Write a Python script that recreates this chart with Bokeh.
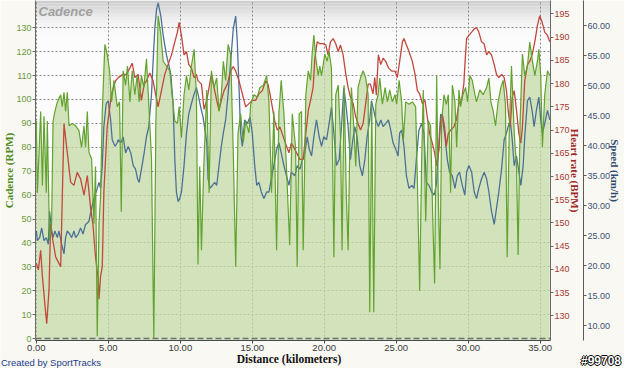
import math
from bokeh.plotting import figure
from bokeh.layouts import column
from bokeh.models import (Range1d, LinearAxis, FixedTicker, NumeralTickFormatter,
                          Span, Label, BoxAnnotation, ColumnDataSource, Div)
from bokeh.embed import file_html
from bokeh.resources import INLINE

# ---------------- data ----------------
cad_km = [0.00, 0.07, 0.30, 0.42, 0.53, 0.69, 0.76, 0.92, 1.06, 1.16, 1.29, 1.46, 1.69, 1.80, 1.92, 2.03,
          2.15, 2.27, 2.50, 2.73, 2.96, 3.14, 3.31, 3.42, 3.54, 3.65, 3.84, 4.00, 4.11, 4.23, 4.35, 4.46,
          4.58, 4.76, 4.92, 5.09, 5.22, 5.39, 5.62, 5.78, 5.90, 6.03, 6.20, 6.33, 6.50, 6.66, 6.84, 7.00,
          7.14, 7.30, 7.47, 7.65, 7.81, 8.00, 8.16, 8.30, 8.46, 8.65, 8.81, 9.04, 9.27, 9.43, 9.62, 9.80,
          9.92, 10.08, 10.26, 10.43, 10.59, 10.77, 10.96, 11.12, 11.23, 11.35, 11.47, 11.62, 11.84, 12.00,
          12.16, 12.34, 12.53, 12.69, 12.85, 12.99, 13.15, 13.32, 13.50, 13.68, 13.85, 14.01, 14.19, 14.38,
          14.54, 14.77, 14.89, 15.12, 15.35, 15.53, 15.77, 16.00, 16.16, 16.34, 16.50, 16.69, 16.85, 17.01,
          17.20, 17.38, 17.60, 17.78, 18.01, 18.12, 18.26, 18.42, 18.54, 18.72, 18.89, 19.05, 19.16, 19.28,
          19.42, 19.58, 19.69, 19.81, 20.04, 20.20, 20.34, 20.50, 20.67, 20.80, 20.97, 21.13, 21.24, 21.38,
          21.54, 21.66, 21.78, 21.89, 22.05, 22.19, 22.35, 22.52, 22.70, 22.88, 23.05, 23.16, 23.30, 23.44,
          23.58, 23.74, 23.86, 24.04, 24.23, 24.39, 24.55, 24.73, 24.92, 25.03, 25.20, 25.38, 25.50, 25.66,
          25.89, 26.12, 26.35, 26.47, 26.63, 26.77, 26.88, 27.05, 27.23, 27.39, 27.55, 27.67, 27.81, 27.92,
          28.04, 28.16, 28.32, 28.48, 28.62, 28.78, 28.90, 29.08, 29.20, 29.36, 29.47, 29.63, 29.82, 29.96,
          30.12, 30.28, 30.47, 30.58, 30.81, 31.04, 31.28, 31.44, 31.58, 31.74, 31.90, 32.08, 32.27, 32.43,
          32.59, 32.71, 32.85, 33.01, 33.20, 33.36, 33.47, 33.61, 33.77, 33.93, 34.12, 34.28, 34.44, 34.63,
          34.81, 34.91, 35.04, 35.16, 35.32, 35.51, 35.67]
cad_rpm = [91, 61, 95, 64, 93, 61, 91, 41, 48, 91, 95, 99, 102, 97, 103, 95,
           103, 89, 90, 89, 87, 80, 89, 80, 95, 78, 75, 48, 72, 1, 48, 59,
           95, 123, 119, 112, 99, 108, 97, 99, 53, 112, 106, 114, 99, 112, 102, 110,
           99, 110, 105, 117, 98, 75, 0, 89, 135, 127, 116, 114, 112, 102, 91, 90,
           97, 84, 102, 110, 104, 114, 121, 102, 31, 72, 37, 70, 104, 61,
           112, 105, 109, 95, 102, 116, 108, 123, 119, 78, 30, 86, 94, 82,
           91, 86, 98, 102, 101, 105, 106, 110, 99, 61, 95, 37, 94, 108,
           94, 71, 39, 94, 80, 30, 94, 95, 37, 102, 112, 108, 119, 127,
           117, 110, 114, 110, 119, 116, 120, 113, 34, 102, 106, 84, 37, 106,
           59, 37, 82, 105, 89, 72, 105, 109, 112, 109, 102, 11, 99, 11,
           98, 102, 109, 98, 105, 99, 104, 99, 102, 98, 108, 99, 83, 99,
           98, 99, 97, 67, 20, 75, 104, 49, 91, 89, 48, 23, 110, 61,
           29, 91, 102, 98, 102, 61, 106, 99, 80, 104, 97, 102, 105, 99,
           110, 108, 102, 99, 104, 102, 105, 109, 99, 95, 89, 99, 105, 108,
           98, 34, 86, 114, 86, 72, 35, 91, 119, 110, 114, 124, 117, 110,
           116, 121, 110, 80, 102, 112, 110]

hr_km = [0.00, 0.14, 0.30, 0.42, 0.60, 0.72, 0.88, 0.99, 1.11, 1.34, 1.57, 1.69, 1.92, 2.15, 2.38, 2.61,
         2.84, 3.07, 3.31, 3.54, 3.77, 3.93, 4.11, 4.30, 4.35, 4.46, 4.58, 4.69, 4.92, 5.22, 5.50, 5.69,
         6.03, 6.26, 6.50, 6.66, 6.84, 7.07, 7.30, 7.49, 7.65, 7.88, 8.11, 8.28, 8.46, 8.69, 8.92, 9.15,
         9.39, 9.62, 9.80, 9.92, 10.08, 10.26, 10.43, 10.59, 10.77, 10.96, 11.12, 11.23, 11.47, 11.65,
         11.84, 12.00, 12.16, 12.34, 12.53, 12.69, 12.85, 13.04, 13.27, 13.50, 13.68, 13.85, 14.08, 14.31,
         14.54, 14.77, 15.00, 15.23, 15.46, 15.70, 15.93, 16.09, 16.23, 16.39, 16.55, 16.74, 16.92, 17.15,
         17.38, 17.55, 17.71, 17.85, 18.08, 18.31, 18.54, 18.72, 18.89, 19.05, 19.23, 19.35, 19.51, 19.69,
         19.93, 20.11, 20.27, 20.43, 20.62, 20.80, 20.97, 21.13, 21.31, 21.50, 21.66, 21.82, 22.01, 22.19,
         22.35, 22.52, 22.70, 22.88, 23.05, 23.21, 23.39, 23.51, 23.62, 23.76, 23.93, 24.09, 24.27, 24.46,
         24.69, 24.92, 25.08, 25.24, 25.43, 25.54, 25.71, 25.89, 26.12, 26.31, 26.47, 26.63, 26.82, 27.00,
         27.16, 27.32, 27.51, 27.67, 27.81, 27.97, 28.09, 28.20, 28.36, 28.48, 28.62, 28.78, 29.01, 29.17,
         29.36, 29.54, 29.70, 29.80, 29.89, 30.05, 30.24, 30.42, 30.58, 30.74, 30.93, 31.11, 31.28, 31.44,
         31.62, 31.81, 31.97, 32.13, 32.32, 32.50, 32.66, 32.78, 32.92, 33.06, 33.20, 33.36, 33.52, 33.66,
         33.77, 33.93, 34.12, 34.28, 34.44, 34.63, 34.81, 34.97, 35.14, 35.32, 35.51, 35.67]
hr_bpm = [141.3, 139.9, 144.1, 138.5, 132.2, 128.3, 135.7, 149.7, 146.9, 142.7, 141.3, 140.6, 171.4, 165.1, 158.8, 158.1,
          160.9, 159.5, 156.0, 160.2, 153.2, 149.7, 142.7, 137.8, 133.6, 138.5, 140.6, 156.7, 170.7, 177.8, 180.6, 181.3,
          182.0, 182.0, 183.4, 184.4, 181.3, 182.0, 176.4, 179.9, 180.6, 182.3, 180.6, 177.8, 175.0, 178.5, 182.0, 184.1,
          186.2, 189.0, 191.1, 193.2, 190.4, 186.2, 186.9, 184.1, 183.4, 181.3, 182.0, 180.6, 179.9, 174.5,
          176.4, 179.2, 182.0, 179.2, 176.4, 174.2, 176.4, 178.5, 179.9, 182.7, 183.7, 182.7, 180.6, 177.8,
          175.0, 175.7, 176.4, 176.4, 177.8, 178.5, 180.6, 179.9, 177.8, 175.0, 172.1, 170.0, 170.7, 168.6,
          166.5, 165.1, 167.2, 166.5, 165.1, 163.7, 163.7, 169.3, 174.2, 176.4, 179.2, 185.5, 189.0, 188.6,
          188.6, 188.3, 186.2, 189.0, 189.7, 188.6, 186.9, 188.3, 186.2, 182.0, 179.2, 177.1, 175.7, 172.8,
          171.4, 170.0, 171.4, 175.7, 179.9, 179.9, 177.8, 181.3, 177.5, 186.2, 184.1, 185.5, 184.8, 183.4,
          182.7, 182.7, 181.3, 184.8, 189.0, 189.7, 188.3, 186.9, 184.8, 182.0, 178.5, 177.8, 175.7, 176.4,
          172.8, 169.3, 167.2, 165.1, 162.3, 165.8, 172.1, 173.5, 170.7, 166.5, 169.3, 170.0, 170.7, 172.1,
          175.7, 176.4, 180.0, 185.5, 189.7, 190.4, 191.1, 191.8, 192.1, 191.1, 189.0, 188.6, 186.2, 186.9,
          186.2, 184.1, 182.0, 181.3, 182.0, 181.3, 178.5, 174.2, 170.7, 177.1, 178.5, 174.2, 169.3, 167.2,
          170.7, 180.6, 184.1, 184.8, 186.2, 189.0, 192.5, 194.6, 193.2, 191.1, 190.4, 189.0]

spd_km = [0.00, 0.07, 0.23, 0.37, 0.53, 0.69, 0.83, 0.92, 1.06, 1.16, 1.29, 1.46, 1.57, 1.76, 1.92, 2.03,
          2.15, 2.31, 2.45, 2.61, 2.73, 2.91, 3.07, 3.24, 3.42, 3.65, 3.84, 4.00, 4.23, 4.35, 4.46, 4.58,
          4.69, 4.85, 4.99, 5.16, 5.27, 5.46, 5.62, 5.69, 5.87, 6.03, 6.20, 6.38, 6.56, 6.73, 6.89, 7.03,
          7.14, 7.30, 7.49, 7.65, 7.81, 8.00, 8.11, 8.23, 8.35, 8.46, 8.65, 8.81, 9.04, 9.15, 9.34, 9.50,
          9.62, 9.73, 9.85, 9.96, 10.08, 10.26, 10.43, 10.59, 10.77, 10.96, 11.12, 11.23, 11.42, 11.58,
          11.65, 11.84, 11.93, 12.07, 12.23, 12.39, 12.53, 12.69, 12.85, 12.99, 13.15, 13.32, 13.50, 13.68,
          13.85, 13.96, 14.08, 14.19, 14.31, 14.47, 14.66, 14.84, 15.00, 15.17, 15.31, 15.46, 15.63, 15.81,
          16.00, 16.16, 16.32, 16.50, 16.69, 16.85, 17.01, 17.20, 17.38, 17.55, 17.71, 17.96, 18.12, 18.31,
          18.49, 18.65, 18.82, 18.96, 19.12, 19.28, 19.46, 19.65, 19.81, 19.97, 20.16, 20.34, 20.50, 20.67,
          20.85, 21.04, 21.20, 21.36, 21.50, 21.66, 21.82, 21.96, 22.12, 22.28, 22.47, 22.65, 22.82, 22.98,
          23.16, 23.28, 23.44, 23.58, 23.76, 23.93, 24.09, 24.27, 24.46, 24.62, 24.78, 24.97, 25.13, 25.24,
          25.38, 25.54, 25.71, 25.89, 26.08, 26.24, 26.40, 26.58, 26.77, 26.93, 27.09, 27.28, 27.46, 27.65,
          27.81, 27.97, 28.09, 28.20, 28.39, 28.55, 28.71, 28.90, 29.08, 29.24, 29.40, 29.59, 29.77, 29.89,
          30.05, 30.24, 30.42, 30.58, 30.74, 30.93, 31.11, 31.28, 31.44, 31.62, 31.81, 31.97, 32.13, 32.32,
          32.50, 32.66, 32.78, 32.92, 33.06, 33.20, 33.36, 33.52, 33.66, 33.82, 33.93, 34.12, 34.28, 34.44,
          34.58, 34.74, 34.91, 35.04, 35.16, 35.32, 35.51, 35.67]
spd_kmh = [25.8, 24.2, 24.7, 26.3, 24.2, 24.7, 23.6, 29.1, 25.8, 24.7, 25.8, 24.7, 25.8, 23.6, 22.0, 24.7,
           25.8, 25.3, 24.7, 25.8, 24.7, 25.3, 26.3, 25.3, 26.9, 27.4, 29.6, 31.2, 32.9, 33.9, 32.9, 36.7,
           43.2, 47.0, 47.5, 44.3, 41.0, 39.9, 40.5, 41.0, 40.5, 41.5, 38.8, 39.9, 38.8, 36.7, 36.1, 34.5,
           33.9, 36.1, 38.8, 41.5, 43.2, 48.6, 54.0, 59.5, 62.7, 63.8, 61.6, 58.4, 55.1, 54.0, 51.9, 47.0,
           37.7, 32.3, 30.7, 31.2, 32.3, 36.7, 42.1, 45.3, 47.0, 48.6, 49.7, 48.6, 46.4, 44.8,
           43.7, 40.5, 34.5, 32.9, 33.4, 33.9, 33.4, 36.7, 39.9, 42.1, 44.3, 48.6, 54.0, 59.5,
           61.6, 57.3, 49.7, 42.1, 39.9, 44.3, 43.7, 44.8, 42.1, 36.7, 33.4, 33.9, 32.3, 31.2,
           32.3, 32.3, 34.5, 36.7, 39.4, 40.5, 38.8, 36.7, 35.0, 33.4, 35.6, 35.0, 36.7, 36.1,
           37.7, 38.8, 41.5, 39.4, 38.3, 41.5, 44.3, 41.5, 39.9, 41.5, 41.0, 43.7, 46.4, 42.1,
           36.7, 37.7, 43.2, 49.7, 47.0, 43.2, 37.7, 40.5, 43.2, 41.5, 36.7, 35.0, 37.7, 41.5,
           44.3, 47.5, 45.9, 44.3, 43.2, 44.3, 43.2, 43.7, 44.3, 42.6, 40.5, 39.4, 38.3, 42.1,
           42.6, 39.9, 35.0, 32.9, 33.4, 32.9, 37.7, 42.6, 43.7, 42.1, 33.9, 33.4, 32.3, 31.8,
           33.9, 40.5, 45.3, 44.8, 41.5, 37.7, 35.6, 35.0, 32.9, 35.0, 35.6, 33.4, 31.8, 35.6,
           36.7, 35.6, 32.3, 31.2, 32.9, 34.5, 35.6, 34.5, 32.3, 29.1, 26.9, 29.6, 32.3, 36.1,
           41.0, 42.1, 43.2, 44.3, 41.0, 36.7, 38.3, 35.6, 33.4, 36.7, 41.5, 47.5, 48.1, 45.9,
           43.2, 45.9, 48.1, 44.3, 42.1, 43.7, 45.9, 44.3]

x_ticks = [0, 5, 10, 15, 20, 25, 30, 35]
cad_ticks = [0, 10, 20, 30, 40, 50, 60, 70, 80, 90, 100, 110, 120, 130]
hr_ticks = [130, 135, 140, 145, 150, 155, 160, 165, 170, 175, 180, 185, 190, 195]
spd_ticks = [10, 15, 20, 25, 30, 35, 40, 45, 50, 55, 60]

# ---------------- layout constants ----------------
W = 624
H_MAIN = 355
H_FOOT = 13
BG = "#f9f8f3"
LBL_FONT = "Liberation Sans"
AX_FONT = "Liberation Serif"

X0, X1 = -0.06, 35.72
C0, C1 = -0.8, 141.4

p = figure(width=W, height=H_MAIN, output_backend="svg", toolbar_location=None,
           x_range=Range1d(X0, X1), y_range=Range1d(C0, C1),
           min_border_left=30, min_border_right=0, min_border_top=0, min_border_bottom=15)
p.extra_y_ranges = {"hr": Range1d(124.7, 197.9), "spd": Range1d(7.56, 64.2)}
p.border_fill_color = BG
p.background_fill_color = "#fcfcfc"
p.outline_line_color = None

# top gradient of the plotting area
n_bands = 14
band = 1.2
for i in range(n_bands):
    t = i / (n_bands - 1)
    v = int(round(206 + (251 - 206) * (1 - (1 - t) ** 2)))
    p.add_layout(BoxAnnotation(top=C1 - i * band, bottom=C1 - (i + 1) * band,
                               fill_color=(v, v, v), fill_alpha=1.0, line_color=None,
                               level="image"))


def style_axis(ax, color, line_color="#6a6a6a"):
    ax.major_label_text_font = LBL_FONT
    ax.major_label_text_font_size = "9px"
    ax.major_label_text_color = color
    ax.major_tick_out = 3
    ax.major_tick_in = 0
    ax.minor_tick_out = 0
    ax.minor_tick_in = 0
    ax.major_tick_line_color = line_color
    ax.axis_line_color = line_color
    ax.major_label_standoff = 1
    ax.axis_label_standoff = 0
    ax.axis_label_text_font = AX_FONT
    ax.axis_label_text_font_size = "11px"
    ax.axis_label_text_font_style = "bold"


xa = p.xaxis[0]
xa.ticker = FixedTicker(ticks=x_ticks)
xa.formatter = NumeralTickFormatter(format="0.00")
style_axis(xa, "#3a3a3a", "#4a4a4a")
xa.major_label_text_font_size = "9.5px"

ya = p.yaxis[0]
ya.ticker = FixedTicker(ticks=cad_ticks)
style_axis(ya, "#6b9a3c", "#6a6a6a")
ya.axis_label = "Cadence (RPM)"
ya.axis_label_text_color = "#4f8c22"
ya.axis_label_standoff = -2

hr_axis = LinearAxis(y_range_name="hr", ticker=FixedTicker(ticks=hr_ticks),
                     axis_label="Heart rate (BPM)")
style_axis(hr_axis, "#a83a34", "#6a6a6a")
hr_axis.axis_label_text_color = "#9e2a26"
hr_axis.axis_label_standoff = -4
p.add_layout(hr_axis, "right")

spd_axis = LinearAxis(y_range_name="spd", ticker=FixedTicker(ticks=spd_ticks),
                      formatter=NumeralTickFormatter(format="0.00"),
                      axis_label="Speed (km/h)")
style_axis(spd_axis, "#3c5273", "#5a5a5a")
spd_axis.axis_label_text_color = "#2e4a6e"
spd_axis.axis_label_standoff = -4
p.add_layout(spd_axis, "right")

p.xgrid.ticker = FixedTicker(ticks=x_ticks)
p.ygrid.ticker = FixedTicker(ticks=cad_ticks[1:])
for g in (p.xgrid[0], p.ygrid[0]):
    g.grid_line_color = "#8a8a8a"
    g.grid_line_dash = "2 2"
    g.grid_line_width = 1

# ---------------- series ----------------
cad_src = ColumnDataSource(dict(km=cad_km, rpm=cad_rpm, base=[C0 - 1] * len(cad_km)))
p.varea(x="km", y1="base", y2="rpm", source=cad_src, fill_color=(196, 219, 167), fill_alpha=0.75)

p.line(x=spd_km, y=spd_kmh, y_range_name="spd", line_color="#4d7196", line_width=1.3)
p.line(x=hr_km, y=hr_bpm, y_range_name="hr", line_color="#c2473c", line_width=1.3)
p.line(x="km", y="rpm", source=cad_src, line_color="#62a22e", line_width=1.2)

p.add_layout(Span(location=0, dimension="width", line_color="#6e6e6e",
                  line_dash="6 3", line_width=1.5))

PXK = 14.4
PXC = 2.38
p.add_layout(Label(x=X0 + 3 / PXK, y=C1 - 3 / PXC, text="Cadence", text_baseline="top",
                   text_font=LBL_FONT, text_font_size="13px", text_font_style="bold italic",
                   text_color="#a0a0a0"))

# ---------------- footer texts (HTML strip under the plot) ----------------
footer_html = (
    f'<div style="position:relative;width:{W}px;height:{H_FOOT}px;background:{BG};overflow:visible;">'
    '<span style="position:absolute;left:1px;top:2px;font-family:\'Liberation Sans\';'
    'font-size:9.5px;line-height:11px;color:#233c8e;white-space:nowrap;">Created by SportTracks</span>'
    '<span style="position:absolute;left:289px;top:-2px;transform:translateX(-50%);'
    'font-family:\'Liberation Serif\';font-size:11.5px;line-height:13px;font-weight:bold;'
    'color:#111111;white-space:nowrap;">Distance (kilometers)</span>'
    '<span style="position:absolute;right:3px;top:0px;font-family:\'Liberation Sans\';'
    'font-size:12px;line-height:13px;font-weight:bold;color:#ffffff;white-space:nowrap;'
    'text-shadow:-1px 0 #000,1px 0 #000,0 -1px #000,0 1px #000;">#99708</span>'
    '</div>'
)
foot = Div(text=footer_html, width=W, height=H_FOOT, margin=0)

layout = column(p, foot, spacing=0)
open("out.html", "w").write(file_html(layout, INLINE))
